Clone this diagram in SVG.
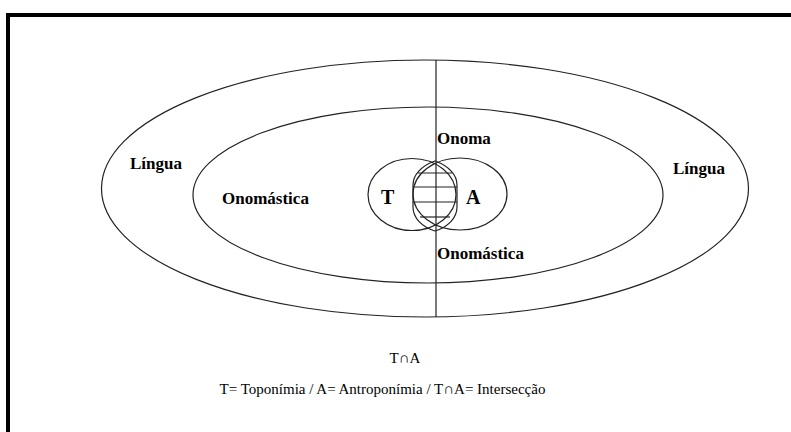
<svg xmlns="http://www.w3.org/2000/svg" width="791" height="432" viewBox="0 0 791 432">
<style>
.ln{fill:none;stroke:#222;stroke-width:1.2}
text{font-family:'Liberation Serif','Times New Roman',serif;fill:#000}
.b{font-weight:bold;font-size:17px}
.r{font-size:15px}
.big{font-weight:bold;font-size:20px}
</style>
<rect width="791" height="432" fill="#fff"/>
<rect x="8" y="15" width="800" height="440" fill="none" stroke="#000" stroke-width="4"/>
<g id="lingua">
<ellipse class="ln" cx="425" cy="188.5" rx="323.5" ry="128.5"/>
<text class="b" x="130" y="169">Língua</text>
<text class="b" x="673" y="174">Língua</text>
</g>
<g id="onomastica">
<ellipse class="ln" cx="428" cy="195" rx="235" ry="88"/>
<text class="b" x="222" y="204">Onomástica</text>
<text class="b" x="437" y="259">Onomástica</text>
</g>
<g id="connectors">
<line class="ln" x1="436" y1="60" x2="436" y2="317"/>
</g>
<g id="onoma">
<text class="b" x="437" y="144">Onoma</text>
</g>
<g id="toponimia">
<ellipse class="ln" cx="412" cy="194.5" rx="44" ry="36"/>
<text class="big" x="381" y="204">T</text>
</g>
<g id="antroponimia">
<ellipse class="ln" cx="460" cy="194" rx="47" ry="36"/>
<text class="big" x="466" y="204">A</text>
</g>
<g id="intersecao">
<path class="ln" d="M435,161 C421,166 413,175 413,185 L413,207 C413,218 422,227 435,231 C448,227 457,218 457,207 L457,185 C457,175 449,166 435,161 Z"/>
<line class="ln" x1="418" y1="173" x2="452" y2="173"/>
<line class="ln" x1="413" y1="187" x2="457" y2="187"/>
<line class="ln" x1="413" y1="202" x2="457" y2="202"/>
<line class="ln" x1="420" y1="217" x2="450" y2="217"/>
</g>
<g id="legenda">
<text class="r" x="405" y="363" text-anchor="middle">T∩A</text>
<text class="r" x="382.5" y="394" text-anchor="middle">T= Toponímia / A= Antroponímia / T∩A= Intersecção</text>
</g>
</svg>
